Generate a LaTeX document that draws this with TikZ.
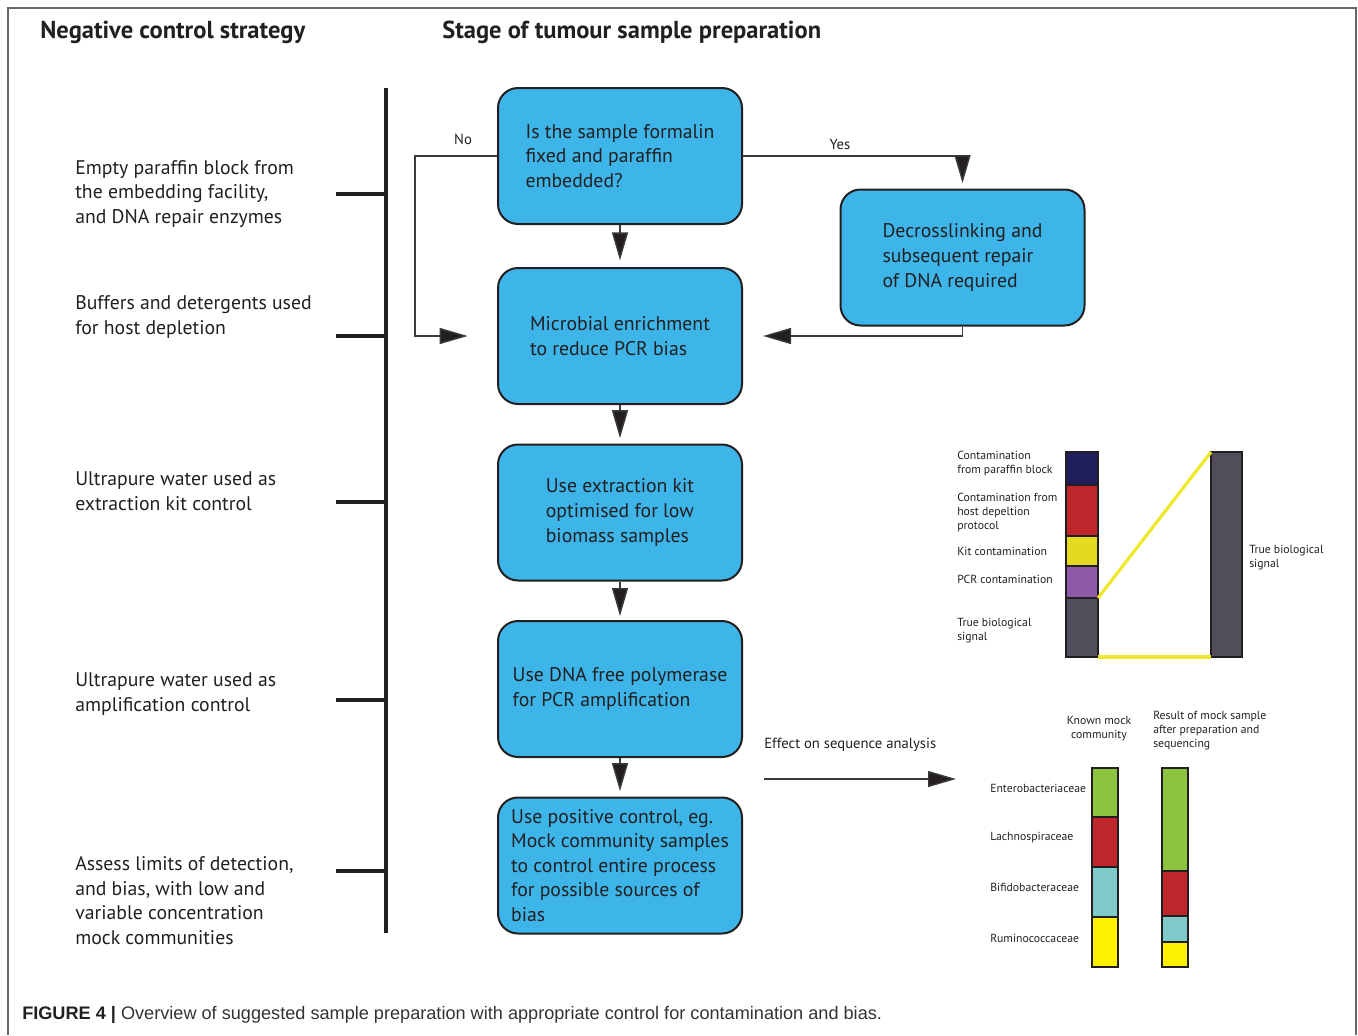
\documentclass[tikz,border=0pt]{standalone}
\usepackage{fontspec}
\setmainfont{PT Sans}
\newfontfamily\capfont{Liberation Sans}
\usetikzlibrary{arrows.meta}
\definecolor{boxblue}{HTML}{3DB5E9}
\definecolor{outline}{HTML}{231F20}
\definecolor{txt}{HTML}{231F20}
\definecolor{arrline}{HTML}{3A3A3A}
\definecolor{framec}{HTML}{666666}
\definecolor{cnavy}{HTML}{1F1D5C}
\definecolor{cred}{HTML}{C0272D}
\definecolor{ckit}{HTML}{E3DB1F}
\definecolor{cpurple}{HTML}{8C5AA6}
\definecolor{cgray}{HTML}{524D5B}
\definecolor{cyline}{HTML}{EEE82B}
\definecolor{cgreen}{HTML}{8CC43F}
\definecolor{ccyan}{HTML}{80CBC9}
\definecolor{cyellow}{HTML}{FFF200}
\newcommand{\mainsz}{\fontsize{14.8}{18.4}\selectfont}
\newcommand{\smallsz}{\fontsize{8.8}{10.5}\selectfont}
\newcommand{\midsz}{\fontsize{11}{13}\selectfont}
\begin{document}
\begin{tikzpicture}[x=0.75pt,y=-0.75pt,
  stagebox/.style={draw=outline, line width=1.5pt, fill=boxblue, rounded corners=15pt,
    minimum width=183pt, minimum height=102pt, align=left, font=\mainsz, text=txt, inner sep=0pt},
  lefttext/.style={anchor=west, align=left, font=\mainsz, text=txt, inner sep=0pt},
  smalltext/.style={anchor=west, align=left, font=\smallsz, text=txt, inner sep=0pt},
  midtext/.style={font=\midsz, text=txt, inner sep=0pt},
  heading/.style={anchor=west, font=\fontsize{18.4}{22}\selectfont\bfseries, text=txt, inner sep=0pt},
  arr/.style={draw=arrline, line width=1.1pt, -{Triangle[length=21pt,width=12pt,fill=outline]}},
  timeline/.style={draw=outline, line width=2.3pt},
  seg/.style={draw=outline, line width=1pt},
  yline/.style={draw=cyline, line width=2.4pt}
]
\useasboundingbox (0,0) rectangle (1358,1035);
% frame
\draw[framec, line width=1.5pt] (8,1035) -- (8,8) -- (1356,8) -- (1356,1035);

% headings
\node[heading] (h1) at (40,32) {Negative control strategy};
\node[heading] (h2) at (442,32) {Stage of tumour sample preparation};

% timeline
\coordinate (tlt) at (386,88);
\coordinate (tlb) at (386,933);
\draw[timeline] (tlt) -- (tlb);
\foreach \yy/\nm in {194/t1,336/t2,502/t3,700/t4,871/t5}{
  \coordinate (\nm a) at (336,\yy);
  \coordinate (\nm b) at (386,\yy);
  \draw[timeline] (\nm a) -- (\nm b);
}

% left texts
\node[lefttext] (lt1) at (75,194) {Empty paraffin block from\\the embedding facility,\\and DNA repair enzymes};
\node[lefttext] (lt2) at (75,317) {Buffers and detergents used\\for host depletion};
\node[lefttext] (lt3) at (75,491) {Ultrapure water used as\\extraction kit control};
\node[lefttext] (lt4) at (75,694) {Ultrapure water used as\\amplification control};
\node[lefttext] (lt5) at (75,900.5) {Assess limits of detection,\\and bias, with low and\\variable concentration\\mock communities};

% boxes
\node[stagebox] (b1) at (620,156) {Is the sample formalin\\fixed and paraffin\\embedded?};
\node[stagebox] (b2) at (620,336) {Microbial enrichment\\to reduce PCR bias};
\node[stagebox] (b3) at (620,512.5) {Use extraction kit\\optimised for low\\biomass samples};
\node[stagebox] (b4) at (620,689) {Use DNA free polymerase\\for PCR amplification};
\node[stagebox] (b5) at (620,865.5) {Use positive control, eg.\\Mock community samples\\to control entire process\\for possible sources of\\bias};
\node[stagebox] (b6) at (962.5,257.5) {Decrosslinking and\\subsequent repair\\of DNA required};

% arrows between boxes
\draw[arr, shorten >=5pt] (b1) -- (b2);
\draw[arr, shorten >=4pt] (b2) -- (b3);
\draw[arr, shorten >=3pt] (b3) -- (b4);
\draw[arr, shorten >=4pt] (b4) -- (b5);
\coordinate (nocorner) at (415,156);
\draw[arr, shorten >=22pt] (b1.west) -- (nocorner) |- (b2.west);
\draw[arr, shorten >=4pt] (b1.east) -| (b6.north);
\draw[arr, shorten >=15pt] (b6.south) |- (b2.east);
\node[midtext] (no) at (463,139) {No};
\node[midtext] (yes) at (840,144) {Yes};

% effect arrow
\node[midtext, anchor=west] (eff) at (764,745) {Effect on sequence analysis};
\coordinate (effa) at (764,779);
\coordinate (effb) at (956,779);
\draw[arr] (effa) -- (effb);

% contamination chart
\draw[seg, fill=cnavy] (1066,452) rectangle (1098,485);
\draw[seg, fill=cred] (1066,485) rectangle (1098,536);
\draw[seg, fill=ckit] (1066,536) rectangle (1098,566);
\draw[seg, fill=cpurple] (1066,566) rectangle (1098,598);
\draw[seg, fill=cgray] (1066,598) rectangle (1098,657);
\draw[seg, fill=cgray] (1211,452) rectangle (1242,657);
\draw[yline] (1098,598) -- (1211,452);
\draw[yline] (1098,657) -- (1211,657);
\node[smalltext] (c1) at (957,463) {Contamination\\from paraffin block};
\node[smalltext] (c2) at (957,512) {Contamination from\\host depeltion\\protocol};
\node[smalltext] (c3) at (957,551) {Kit contamination};
\node[smalltext] (c4) at (957,579) {PCR contamination};
\node[smalltext] (c5) at (957,631) {True biological\\signal};
\node[smalltext] (c6) at (1249,558) {True biological\\signal};

% mock chart
\node[smalltext, anchor=center, align=center] (m1) at (1099,729) {Known mock\\community};
\node[smalltext] (m2) at (1153,731) {Result of mock sample\\after preparation and\\sequencing};
\node[smalltext] (e1) at (990,788) {Enterobacteriaceae};
\node[smalltext] (e2) at (990,838) {Lachnospiraceae};
\node[smalltext] (e3) at (990,887) {Bifidobacteraceae};
\node[smalltext] (e4) at (990,938) {Ruminococcaceae};
\draw[seg, fill=cgreen] (1092,768) rectangle (1118,817);
\draw[seg, fill=cred] (1092,817) rectangle (1118,867);
\draw[seg, fill=ccyan] (1092,867) rectangle (1118,917);
\draw[seg, fill=cyellow] (1092,917) rectangle (1118,967);
\draw[seg, fill=cgreen] (1162,768) rectangle (1188,871);
\draw[seg, fill=cred] (1162,871) rectangle (1188,916);
\draw[seg, fill=ccyan] (1162,916) rectangle (1188,942);
\draw[seg, fill=cyellow] (1162,942) rectangle (1188,967);

% caption
\node[anchor=west, inner sep=0pt, text=txt] (cap) at (22,1015) {\capfont\fontsize{13.6}{16}\selectfont\textbf{FIGURE 4 |} \color{black!80}Overview of suggested sample preparation with appropriate control for contamination and bias.};
\end{tikzpicture}
\end{document}
